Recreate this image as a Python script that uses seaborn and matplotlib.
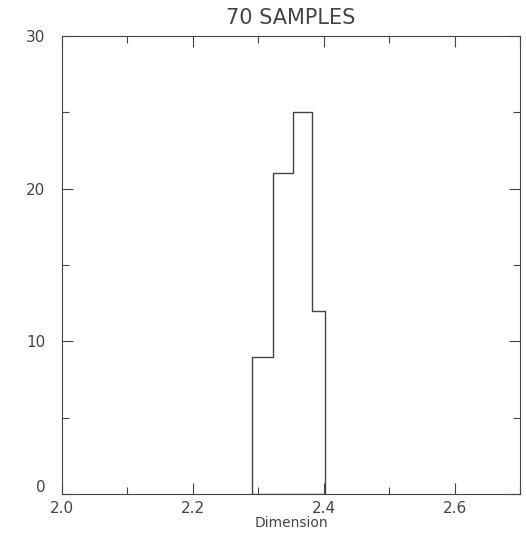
import numpy as np
import matplotlib
matplotlib.use("Agg")
import matplotlib.pyplot as plt
import seaborn as sns
from matplotlib.ticker import MultipleLocator, FuncFormatter

# histogram
bin_edges = [2.29, 2.322, 2.353, 2.382, 2.402]
counts = [9, 21, 25, 12]
title = "70 SAMPLES"
xlabel = "Dimension"

sns.set_style("ticks")
plt.rcParams['font.family'] = ['DejaVu Sans']

ink = "#444444"
fig = plt.figure(figsize=(5.26, 5.36), dpi=100)
ax = fig.add_axes([62 / 526, 1 - 494 / 536, (520 - 62) / 526, (494 - 36) / 536])

centers = [(a + b) / 2 for a, b in zip(bin_edges[:-1], bin_edges[1:])]
# filled step with a clear face gives the closed outline down to zero
sns.histplot(x=centers, weights=counts, bins=bin_edges, element="step",
             fill=True, color=ink, facecolor=(0, 0, 0, 0), edgecolor=ink,
             linewidth=1.0, ax=ax)

ax.set_xlim(2.0, 2.7)
ax.set_ylim(0, 30)
ax.xaxis.set_major_locator(MultipleLocator(0.2))
ax.xaxis.set_minor_locator(MultipleLocator(0.1))
ax.yaxis.set_major_locator(MultipleLocator(10))
ax.yaxis.set_minor_locator(MultipleLocator(5))
# zero label is drawn by hand a little above the corner
ax.yaxis.set_major_formatter(FuncFormatter(lambda v, p: "" if v == 0 else f"{v:.0f}"))
ax.tick_params(which="both", direction="in", top=True, right=True,
               color=ink, width=0.8, labelcolor=ink, labelsize=11)
ax.tick_params(which="major", length=8)
ax.tick_params(which="minor", length=5)
ax.tick_params(axis="y", pad=12)
ax.tick_params(axis="x", pad=5)
for s in ax.spines.values():
    s.set_color(ink)
    s.set_linewidth(0.8)

ax.text(-0.035, 0.015, "0", transform=ax.transAxes, ha="right", va="center",
        fontsize=11, color=ink)

ax.set_xlabel(xlabel, fontsize=10, color=ink, labelpad=0)
ax.set_ylabel("")
ax.set_title(title, fontsize=15, color=ink, pad=9)

fig.savefig("out.png", dpi=100)
